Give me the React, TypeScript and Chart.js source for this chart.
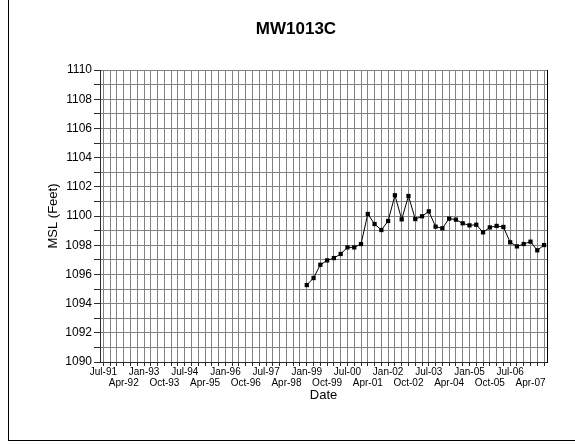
import React, { useEffect, useRef } from 'react';
import { Chart, registerables } from 'chart.js';

Chart.register(...registerables);

const FONT = "'Liberation Sans', Arial, sans-serif";
const MONTHS = ['Jan', 'Feb', 'Mar', 'Apr', 'May', 'Jun', 'Jul', 'Aug', 'Sep', 'Oct', 'Nov', 'Dec'];

// Quarterly groundwater elevation readings for well MW1013C
const sampleDates = [
  'Jan-99', 'Apr-99', 'Jul-99', 'Oct-99',
  'Jan-00', 'Apr-00', 'Jul-00', 'Oct-00',
  'Jan-01', 'Apr-01', 'Jul-01', 'Oct-01',
  'Jan-02', 'Apr-02', 'Jul-02', 'Oct-02',
  'Jan-03', 'Apr-03', 'Jul-03', 'Oct-03',
  'Jan-04', 'Apr-04', 'Jul-04', 'Oct-04',
  'Jan-05', 'Apr-05', 'Jul-05', 'Oct-05',
  'Jan-06', 'Apr-06', 'Jul-06', 'Oct-06',
  'Jan-07', 'Apr-07', 'Jul-07', 'Oct-07',
];

const waterLevels = [
  1095.27, 1095.75, 1096.66, 1096.96,
  1097.12, 1097.40, 1097.85, 1097.85,
  1098.08, 1100.14, 1099.45, 1099.04,
  1099.66, 1101.42, 1099.77, 1101.37,
  1099.79, 1099.98, 1100.32, 1099.27,
  1099.16, 1099.82, 1099.75, 1099.50,
  1099.36, 1099.40, 1098.88, 1099.22,
  1099.32, 1099.25, 1098.20, 1097.92,
  1098.08, 1098.24, 1097.65, 1098.01,
];

// Date axis labels, alternating between two rows
const dateTickLabels = [
  'Jul-91', 'Apr-92', 'Jan-93', 'Oct-93', 'Jul-94', 'Apr-95', 'Jan-96', 'Oct-96',
  'Jul-97', 'Apr-98', 'Jan-99', 'Oct-99', 'Jul-00', 'Apr-01', 'Jan-02', 'Oct-02',
  'Jul-03', 'Apr-04', 'Jan-05', 'Oct-05', 'Jul-06', 'Apr-07',
];

const Y_MIN = 1090;
const Y_MAX = 1110;

function monthIndex(label: string): number {
  const [mon, yy] = label.split('-');
  const y = Number(yy);
  const year = y < 50 ? 2000 + y : 1900 + y;
  return year * 12 + MONTHS.indexOf(mon);
}

const FIRST_GRID = monthIndex('Jul-91');
const X_MIN = FIRST_GRID - 1.5;
const X_MAX = monthIndex('Nov-07') + 0.3;

const GRID_COLOR = '#828282';
const AXIS_COLOR = '#2a2a2a';

// The chart object is a little wider than the visible window; its right part is clipped.
const CANVAS_W = 592;
const CANVAS_H = 445;
const PLOT_RIGHT = 547;

const plotFrame = {
  id: 'plotFrame',
  afterDraw(chart: any) {
    const { ctx, chartArea } = chart;
    const x = Math.round(chartArea.right) + 0.5;
    ctx.save();
    ctx.strokeStyle = '#000';
    ctx.lineWidth = 1;
    ctx.beginPath();
    ctx.moveTo(x, Math.round(chartArea.top));
    ctx.lineTo(x, Math.round(chartArea.bottom) + 1);
    ctx.stroke();
    ctx.restore();
  },
};

export default function App() {
  const canvasRef = useRef<HTMLCanvasElement | null>(null);

  useEffect(() => {
    const canvas = canvasRef.current;
    if (!canvas) return;

    const labelIndex = new Map<number, number>(
      dateTickLabels.map((l, i) => [monthIndex(l), i] as [number, number])
    );

    const chart = new Chart(canvas, {
      type: 'line',
      data: {
        datasets: [
          {
            label: 'MW1013C',
            data: sampleDates.map((d, i) => ({ x: monthIndex(d), y: waterLevels[i] })),
            borderColor: '#000',
            borderWidth: 1,
            pointStyle: 'rect',
            pointRadius: 3,
            pointBackgroundColor: '#000',
            pointBorderColor: '#000',
            pointBorderWidth: 0,
            tension: 0,
          },
        ],
      },
      options: {
        animation: false,
        responsive: false,
        devicePixelRatio: 1,
        layout: { padding: 0 },
        plugins: {
          legend: { display: false },
          tooltip: { enabled: false },
          title: {
            display: true,
            text: 'MW1013C',
            color: '#000',
            font: { family: FONT, size: 17, weight: 'bold' },
            padding: { top: 19.3, bottom: 30.3 },
          },
        },
        scales: {
          x: {
            type: 'linear',
            min: X_MIN,
            max: X_MAX,
            afterBuildTicks: (scale: any) => {
              const ticks = [];
              for (let m = FIRST_GRID; m <= X_MAX; m += 3) ticks.push({ value: m });
              scale.ticks = ticks;
            },
            afterFit: (scale: any) => {
              scale.height = 83;
            },
            ticks: {
              autoSkip: false,
              maxRotation: 0,
              minRotation: 0,
              padding: 1,
              color: '#000',
              font: { family: FONT, size: 10, lineHeight: 1.1 },
              callback: (value: any) => {
                const i = labelIndex.get(Number(value));
                if (i === undefined) return '';
                return i % 2 === 0 ? dateTickLabels[i] : ['', dateTickLabels[i]];
              },
            },
            grid: { color: GRID_COLOR, tickLength: 4, tickColor: AXIS_COLOR },
            border: { color: AXIS_COLOR, width: 1 },
            title: {
              display: true,
              text: 'Date',
              color: '#000',
              font: { family: FONT, size: 13 },
              padding: { top: 0, bottom: 41.5 },
            },
          },
          y: {
            type: 'linear',
            position: 'left',
            min: Y_MIN,
            max: Y_MAX,
            afterBuildTicks: (scale: any) => {
              const ticks = [];
              for (let v = Y_MIN; v <= Y_MAX; v++) ticks.push({ value: v });
              scale.ticks = ticks;
            },
            afterFit: (scale: any) => {
              scale.width = 100;
            },
            ticks: {
              autoSkip: false,
              padding: 2,
              color: '#000',
              font: { family: FONT, size: 12 },
              callback: (value: any) => (Number(value) % 2 === 0 ? String(value) : ''),
            },
            grid: { color: GRID_COLOR, tickLength: 6, tickColor: AXIS_COLOR },
            border: { color: AXIS_COLOR, width: 1 },
            title: {
              display: true,
              text: 'MSL (Feet)',
              color: '#000',
              font: { family: FONT, size: 13 },
              padding: { top: 45.2, bottom: 0 },
            },
          },
          // empty margin to the right of the plot area
          rightMargin: {
            type: 'linear',
            position: 'right',
            ticks: { display: false },
            grid: { display: false },
            border: { display: false },
            afterFit: (scale: any) => {
              scale.width = CANVAS_W - PLOT_RIGHT;
            },
          },
        },
      },
      plugins: [plotFrame],
    } as any);

    return () => chart.destroy();
  }, []);

  return (
    <div>
      <div
        style={{
          position: 'fixed',
          left: 0,
          top: 0,
          width: 575,
          height: CANVAS_H,
          overflow: 'hidden',
        }}
      >
        <canvas
          ref={canvasRef}
          width={CANVAS_W}
          height={CANVAS_H}
          style={{ position: 'absolute', left: 0, top: 0, width: CANVAS_W, height: CANVAS_H, display: 'block' }}
        />
      </div>
      <div
        style={{
          position: 'fixed',
          left: 8,
          top: 0,
          width: 567,
          height: 441,
          boxSizing: 'border-box',
          borderLeft: '1px solid #000',
          borderBottom: '1px solid #000',
          pointerEvents: 'none',
        }}
      />
    </div>
  );
}
